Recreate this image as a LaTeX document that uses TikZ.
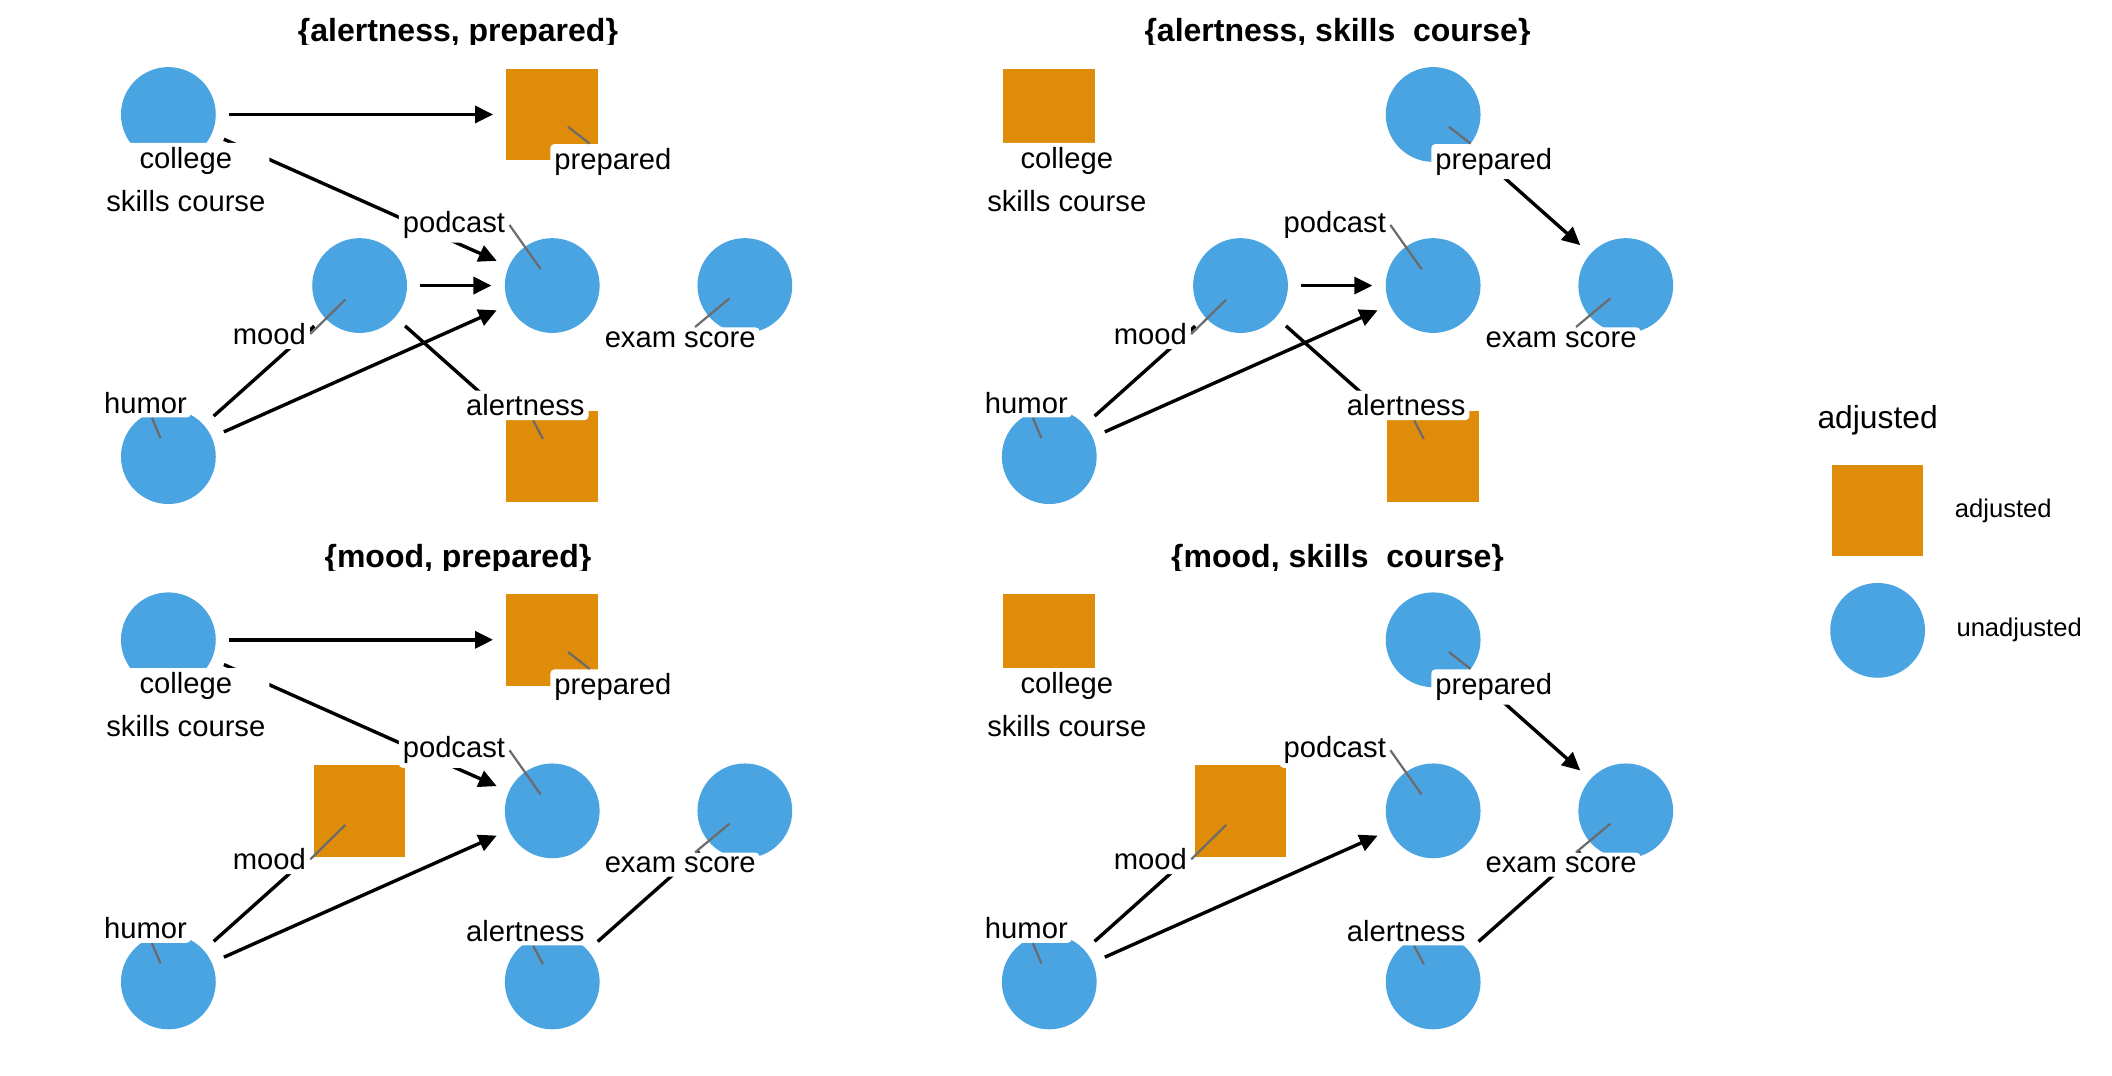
\documentclass[tikz,border=0pt]{standalone}
\usepackage{fontspec}
\setmainfont{Liberation Sans}
\usepackage{tikz}
\usetikzlibrary{arrows.meta,shapes,positioning}

\definecolor{adjorange}{HTML}{DE8C0A}
\definecolor{unadjblue}{HTML}{4AA4E1}

\tikzset{
  adj/.style={rectangle,fill=adjorange,minimum size=45.8pt,inner sep=0pt},
  unadj/.style={circle,fill=unadjblue,minimum size=47.4pt,inner sep=0pt},
  lbl/.style={fill=white,rounded corners=2pt,inner xsep=2pt,inner ysep=2pt,font=\fontsize{14.6}{21.5}\selectfont},
  ttl/.style={anchor=base,font=\fontsize{16}{19}\bfseries\selectfont},
  dagline/.style={line width=1.7pt,shorten >=6.5pt,shorten <=6.5pt},
  leader/.style={draw=black!58,line width=1.1pt,shorten >=10pt}
}

\begin{document}
\begin{tikzpicture}[x=0.67347pt,y=-0.67347pt,>={Triangle[length=9pt,width=8.5pt]}]
\useasboundingbox (0,0) rectangle (1568,798.2);

% shapes of the four panels
\foreach \p/\ox/\oy/\sc/\sp/\sm/\sa in {a/0/0/unadj/adj/unadj/adj,b/654/0/adj/unadj/unadj/adj,c/0/390/unadj/adj/adj/unadj,d/654/390/adj/unadj/adj/unadj}{
  \begin{scope}[shift={(\ox,\oy)}]
    \node [\sc] (college\p) at (125,85) {};
    \node [\sp] (prepared\p) at (410,85) {};
    \node [\sm] (mood\p) at (267,212) {};
    \node [unadj] (podcast\p) at (410,212) {};
    \node [unadj] (exam\p) at (553,212) {};
    \node [unadj] (humor\p) at (125,339) {};
    \node [\sa] (alertness\p) at (410,339) {};
  \end{scope}
}

% titles, cut at the bottom like the panel strips
\begin{scope}
  \clip (0,0) rectangle (1568,33.4) (0,390) rectangle (1568,423.4);
  \node [ttl] (titlea) at (340,31) {\{alertness, prepared\}};
  \node [ttl] (titleb) at (993,31) {\{alertness, skills\ \ course\}};
  \node [ttl] (titlec) at (340,421) {\{mood, prepared\}};
  \node [ttl] (titled) at (993,421) {\{mood, skills\ \ course\}};
\end{scope}

% edges
\draw [dagline,->] (collegea) -- (prepareda);
\draw [dagline,->] (collegea) -- (podcasta);
\draw [dagline,->] (mooda) -- (podcasta);
\draw [dagline,->] (humora) -- (podcasta);
\draw [dagline] (humora) -- (mooda);
\draw [dagline] (mooda) -- (alertnessa);

\draw [dagline,->] (moodb) -- (podcastb);
\draw [dagline,->] (humorb) -- (podcastb);
\draw [dagline] (humorb) -- (moodb);
\draw [dagline] (moodb) -- (alertnessb);
\draw [dagline,->] (preparedb) -- (examb);

\draw [dagline,->] (collegec) -- (preparedc);
\draw [dagline,->] (collegec) -- (podcastc);
\draw [dagline,->] (humorc) -- (podcastc);
\draw [dagline] (humorc) -- (moodc);
\draw [dagline] (alertnessc) -- (examc);

\draw [dagline,->] (humord) -- (podcastd);
\draw [dagline] (humord) -- (moodd);
\draw [dagline,->] (preparedd) -- (examd);
\draw [dagline] (alertnessd) -- (examd);

% labels and leaders
\foreach \p/\ox/\oy in {a/0/0,b/654/0,c/0/390,d/654/390}{
  \begin{scope}[shift={(\ox,\oy)}]
    \node [lbl,align=center] (lcollege\p) at (138,133) {college\\skills course};
    \node [lbl] (lprepared\p) at (455,120) {prepared};
    \node [lbl] (lpodcast\p) at (337,167) {podcast};
    \node [lbl] (lmood\p) at (200,248) {mood};
    \node [lbl] (lexam\p) at (505,252) {exam score};
    \node [lbl] (lhumor\p) at (108,299) {humor};
    \node [lbl] (lalertness\p) at (390,301) {alertness};
  \end{scope}
  \draw [leader] (lprepared\p) -- (prepared\p.center);
  \draw [leader] (lpodcast\p.east) -- (podcast\p.center);
  \draw [leader] (lmood\p.east) -- (mood\p.center);
  \draw [leader] (lexam\p) -- (exam\p.center);
  \draw [leader] (lhumor\p) -- (humor\p.center);
  \draw [leader] (lalertness\p) -- (alertness\p.center);
}

% legend
\node [font=\fontsize{15.9}{19}\selectfont] (legtitle) at (1394,312) {adjusted};
\node [adj] (legadj) at (1394,379) {};
\node [unadj] (legunadj) at (1394,468) {};
\node [right=12pt of legadj,font=\fontsize{12.8}{15}\selectfont] (legadjtext) {adjusted};
\node [right=12pt of legunadj,font=\fontsize{12.8}{15}\selectfont] (legunadjtext) {unadjusted};
\end{tikzpicture}
\end{document}
